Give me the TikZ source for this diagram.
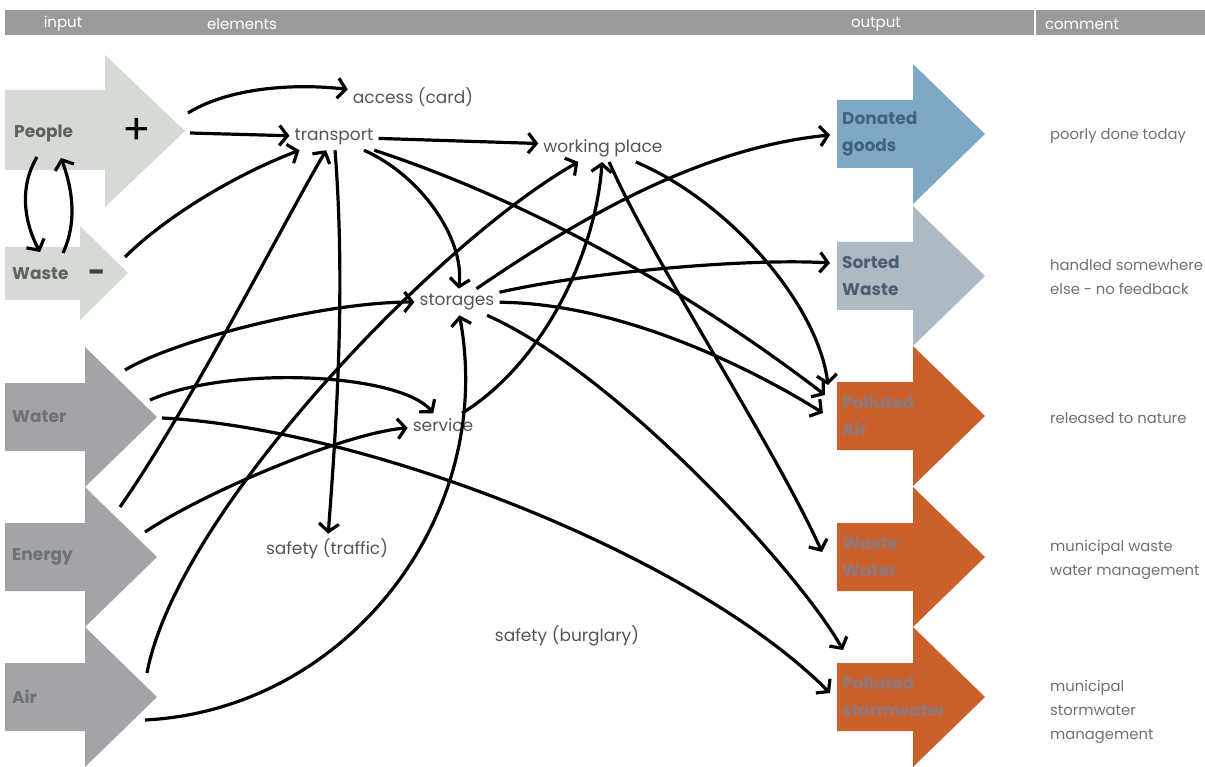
\documentclass[tikz,border=0pt]{standalone}
\usepackage{fontspec}
\setmainfont{Poppins}
\usetikzlibrary{arrows.meta}

\definecolor{headgray}{HTML}{9A9A9A}
\definecolor{lightin}{HTML}{D5DAD4}
\definecolor{ingray}{HTML}{A2A4A7}
\definecolor{outblue}{HTML}{7EA8C6}
\definecolor{outgray}{HTML}{ADBAC4}
\definecolor{outorange}{HTML}{CB602B}
\definecolor{elemtext}{HTML}{555555}
\definecolor{notetext}{HTML}{707070}
\definecolor{lighttext}{HTML}{5F635F}
\definecolor{intext}{HTML}{6E7176}
\definecolor{donatedtext}{HTML}{3F6381}
\definecolor{sortedtext}{HTML}{4D5E6E}
\definecolor{orangetext}{HTML}{8C7A80}

\begin{document}
\begin{tikzpicture}[x=1pt, y=-1pt,
    elem/.style={text=elemtext, font=\fontsize{17}{20}\selectfont, inner sep=5pt},
    note/.style={text=notetext, font=\fontsize{14.8}{24}\selectfont, align=left, anchor=west, inner sep=2pt},
    head/.style={text=white, font=\fontsize{15}{18}\selectfont},
    tag/.style={font=\bfseries\fontsize{17}{27}\selectfont, align=left, anchor=west, inner sep=2pt},
    link/.style={line width=3.2pt, -{Straight Barb[length=8pt,width=20pt]}}]

    \useasboundingbox (0,0) rectangle (1205,767);

    % 見出しの帯
    \fill[headgray] (5,10) rectangle (1205,35);
    \draw[white, line width=1.5pt] (1035,10) -- (1035,35);
    \node[head] (h-input) at (63,24) {input};
    \node[head] (h-elements) at (242,24) {elements};
    \node[head] (h-output) at (876,24) {output};
    \node[head] (h-comment) at (1082,24) {comment};

    % 入力の矢印
    \fill[lightin] (5,247) -- (80,247) -- (80,226) -- (128,273) -- (80,320) -- (80,300) -- (5,300) -- cycle;
    \fill[lightin] (5,90) -- (105,90) -- (105,55) -- (185,131) -- (105,207) -- (105,170) -- (5,170) -- cycle;
    \coordinate (waste) at (128,273);
    \coordinate (people) at (185,131);
    \node[tag, text=lighttext] (people-label) at (12,133) {People};
    \node[tag, text=lighttext] (waste-label) at (10,274) {Waste};
    \node[font=\fontsize{42}{42}\selectfont] (plus) at (137,131) {+};
    \node[font=\bfseries\fontsize{30}{30}\selectfont, text=darkgray] (minus) at (97,276) {-};

    \foreach \n/\y/\t in {water/417/Water, energy/557/Energy, air/697/Air} {
        \fill[ingray] (5,\y-34) -- (85,\y-34) -- (85,\y-70) -- (157,\y) -- (85,\y+70) -- (85,\y+34) -- (5,\y+34) -- cycle;
        \coordinate (\n) at (157,\y);
        \node[tag, text=intext] (\n-label) at (10,\y) {\t};
    }

    % 出力の矢印
    \foreach \n/\y/\c/\t/\tc in {donated/134/outblue/{Donated\\goods}/donatedtext,
        sorted/276/outgray/{Sorted\\Waste}/sortedtext,
        pollair/416/outorange/{Polluted\\Air}/orangetext,
        wastewater/557/outorange/{Waste\\Water}/orangetext,
        storm/697/outorange/{Polluted\\stormwater}/orangetext} {
        \fill[\c] (837,\y-34) -- (913,\y-34) -- (913,\y-70) -- (985,\y) -- (913,\y+70) -- (913,\y+34) -- (837,\y+34) -- cycle;
        \coordinate (\n) at (837,\y);
        \node[tag, text=\tc] (\n-label) at (840,\y) {\t};
    }

    % コメント
    \node[note] (c-donated) at (1048,136) {poorly done today};
    \node[note] (c-sorted) at (1048,277) {handled somewhere\\else - no feedback};
    \node[note] (c-pollair) at (1048,418) {released to nature};
    \node[note] (c-wastewater) at (1048,560) {municipal waste\\water management};
    \node[note] (c-storm) at (1048,712) {municipal\\stormwater\\management};

    % 要素
    \node[elem] (access) at (413,97) {access (card)};
    \node[elem] (transport) at (334,137) {transport};
    \node[elem] (working) at (603,148) {working place};
    \node[elem] (storages) at (457,302) {storages};
    \node[elem] (service) at (443,425) {service};
    \node[elem] (traffic) at (327,549) {safety (traffic)};
    \node[elem] (burglary) at (567,636) {safety (burglary)};

    % つながり
    \draw[link] ([shift={(25,24)}]people-label.west) .. controls +(-18,30) and +(-16,-30) .. ([shift={(30,-22)}]waste-label.west);
    \draw[link] ([shift={(53,-21)}]waste-label.west) .. controls +(14,-30) and +(12,32) .. ([shift={(49,25)}]people-label.west);
    \draw[link] ([shift={(3,-18)}]people) .. controls +(40,-25) and +(-50,-12) .. ([shift={(-70,-2)}]access);
    \draw[link] ([shift={(5,2)}]people) -- ([shift={(-49,-4)}]transport);
    \draw[link] ([shift={(-3,-16)}]waste) .. controls +(35,-35) and +(-54,25) .. ([shift={(-53,16)}]transport);

    \draw[link] ([shift={(53,-4)}]transport) -- ([shift={(-73,-1)}]working);
    \draw[link] ([shift={(51,11)}]transport) .. controls +(150,55) and +(-130,-100) .. ([shift={(-12,-21)}]pollair);
    \draw[link] ([shift={(46,18)}]transport) .. controls +(40,20) and +(-5,-50) .. ([shift={(13,-14)}]storages);
    \draw[link] ([shift={(-1,21)}]transport) .. controls +(12,120) and +(5,-120) .. ([shift={(6,-22)}]traffic);

    \draw[link] ([shift={(43,-14)}]storages) .. controls +(80,-70) and +(-130,13) .. ([shift={(-7,1)}]donated);
    \draw[link] ([shift={(51,-10)}]storages) .. controls +(80,-20) and +(-80,-5) .. ([shift={(-7,-13)}]sorted);
    \draw[link] ([shift={(58,1)}]storages) .. controls +(100,0) and +(-80,-50) .. ([shift={(-14,-3)}]pollair);
    \draw[link] ([shift={(58,10)}]storages) .. controls +(100,60) and +(-45,-80) .. ([shift={(6,-47)}]storm);

    \draw[link] ([shift={(57,14)}]working) .. controls +(70,40) and +(-10,-80) .. ([shift={(-9,-31)}]pollair);
    \draw[link] ([shift={(30,14)}]working) .. controls +(20,100) and +(-50,-110) .. ([shift={(-15,-5)}]wastewater);
    \draw[link] ([shift={(42,-3)}]service) .. controls +(60,-60) and +(-22,88) .. ([shift={(15,15)}]working);

    \draw[link] ([shift={(-32,-47)}]water) .. controls +(50,-30) and +(-90,0) .. ([shift={(-44,0)}]storages);
    \draw[link] ([shift={(-7,-17)}]water) .. controls +(80,-35) and +(-50,-35) .. ([shift={(7,-17)}]service);
    \draw[link] ([shift={(5,1)}]water) .. controls +(200,10) and +(-140,-140) .. ([shift={(-7,-4)}]storm);
    \draw[link] ([shift={(-37,-50)}]energy) .. controls +(70,-100) and +(-20,60) .. ([shift={(-28,21)}]transport);
    \draw[link] ([shift={(-12,-25)}]energy) .. controls +(60,-40) and +(-60,8) .. ([shift={(-38,0)}]service);
    \draw[link] ([shift={(-10,-24)}]air) .. controls +(30,-160) and +(-100,90) .. ([shift={(-66,4)}]working);
    \draw[link] ([shift={(-12,23)}]air) .. controls +(200,-10) and +(0,200) .. ([shift={(40,16)}]storages);
\end{tikzpicture}
\end{document}
